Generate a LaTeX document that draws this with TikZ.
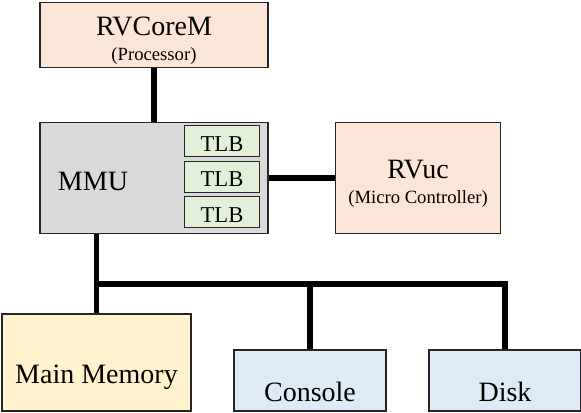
\documentclass[tikz,border=0pt]{standalone}
\usepackage{fontspec}
\setmainfont{Liberation Serif}
\usepackage{tikz}
\usetikzlibrary{positioning,calc}

\definecolor{coreclr}{HTML}{FBE5D6}
\definecolor{mmuclr}{HTML}{D9D9D9}
\definecolor{tlbclr}{HTML}{E2F0D9}
\definecolor{memclr}{HTML}{FFF2CC}
\definecolor{ioclr}{HTML}{DEEBF7}
\definecolor{edgeclr}{HTML}{262626}

\tikzset{
	unit/.style = {draw=edgeclr, line width=1.1pt, inner sep=0pt},
	tlbbox/.style = {draw=edgeclr, line width=1.1pt, fill=tlbclr, minimum width=56pt, minimum height=23pt, inner sep=0pt},
	big/.style = {anchor=base, inner sep=0pt, font=\fontsize{21}{23}\selectfont},
	small/.style = {anchor=base, inner sep=0pt, font=\fontsize{14}{16}\selectfont},
	tlbtext/.style = {anchor=base, inner sep=0pt, font=\fontsize{17}{19}\selectfont},
	bus/.style = {line width=3.8pt}
}

\begin{document}
\begin{tikzpicture}[x=0.75pt, y=-0.75pt]
		\useasboundingbox (0,0) rectangle (581,412);
		% boxes
		\node [unit, fill=coreclr, minimum width=171pt, minimum height=49pt](core) at (154,35) {};
		\node [unit, fill=mmuclr, minimum width=171pt, minimum height=83pt](mmu) at (154,178) {};
		\node [tlbbox](tlb1) at (222,141) {};
		\node [tlbbox](tlb2) at (222,177) {};
		\node [tlbbox](tlb3) at (222,212) {};
		\node [unit, fill=coreclr, minimum width=124pt, minimum height=83pt](rvuc) at (418,178) {};
		\node [unit, fill=memclr, minimum width=142pt, minimum height=73pt](mem) at (96.5,362.5) {};
		\node [unit, fill=ioclr, minimum width=114pt, minimum height=46pt](console) at (310,380.5) {};
		\node [unit, fill=ioclr, minimum width=114pt, minimum height=46pt](disk) at (505,380.5) {};
		% texts
		\node [big](coretitle) at (154,35) {RVCoreM};
		\node [small](coresub) at (154,60) {(Processor)};
		\node [big](mmutitle) at (93,190) {MMU};
		\node [tlbtext](tlbtitle1) at (222,151) {TLB};
		\node [tlbtext](tlbtitle2) at (222,186) {TLB};
		\node [tlbtext](tlbtitle3) at (222,222) {TLB};
		\node [big](rvuctitle) at (418,178) {RVuc};
		\node [small](rvucsub) at (418,203) {(Micro Controller)};
		\node [big](memtitle) at (96.5,383) {Main Memory};
		\node [big](consoletitle) at (310,401) {Console};
		\node [big](disktitle) at (505,401) {Disk};
		% connectors
		\draw [bus] (core.south) -- (mmu.north);
		\draw [bus] (mmu.east) -- (rvuc.west);
		\coordinate (junction) at (96.5,284);
		\draw [bus] (mmu.south -| mem.north) -- (mem.north);
		\draw [bus] ([xshift=-1.9pt]junction) -| (console.north);
		\draw [bus] (junction) -| (disk.north);
		\end{tikzpicture}
\end{document}
